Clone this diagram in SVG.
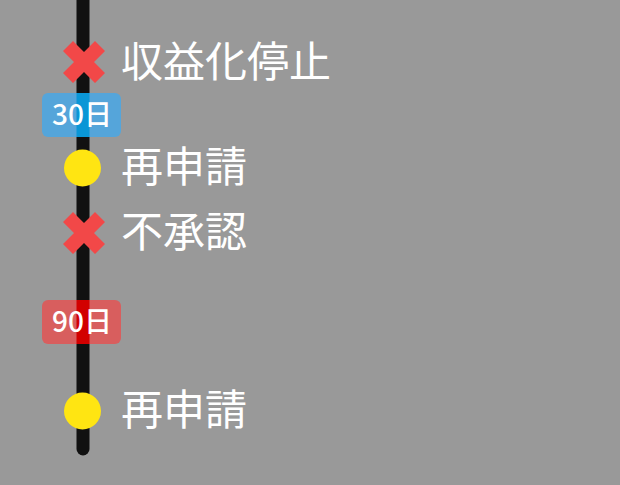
<svg xmlns="http://www.w3.org/2000/svg" width="620" height="485" viewBox="0 0 620 485">
<style>
.label{font-family:"Noto Sans CJK JP","Noto Sans",sans-serif;font-size:42px;font-weight:400;fill:#ffffff}
.badge-text{font-family:"Noto Sans CJK JP","Noto Sans",sans-serif;font-size:28px;font-weight:500;fill:#ffffff;text-anchor:middle}
.cross{fill:#f24848}
.dot{fill:#ffe512}
</style>
<defs>
<path id="x" d="M-21,-11 L-11,-21 L0,-10 L11,-21 L21,-11 L10,0 L21,11 L11,21 L0,10 L-11,21 L-21,11 L-10,0 Z"/>
</defs>
<rect width="620" height="485" fill="#999999"/>
<g id="connectors">
<line x1="83" y1="-20" x2="83" y2="449" stroke="#111111" stroke-width="13" stroke-linecap="round"/>
</g>
<g id="node-stop">
<use href="#x" x="84" y="62" class="cross"/>
<text class="label" x="121" y="77">収益化停止</text>
</g>
<g id="badge-30">
<rect x="42" y="93" width="79" height="44" rx="6" fill="#55a5da"/>
<rect x="76.5" y="93" width="13" height="44" fill="#0a96d6"/>
<text class="badge-text" x="82" y="125">30日</text>
</g>
<g id="node-reapply-1">
<circle cx="82.5" cy="168" r="18.5" class="dot"/>
<text class="label" x="121" y="182">再申請</text>
</g>
<g id="node-reject">
<use href="#x" x="84" y="233" class="cross"/>
<text class="label" x="121" y="247">不承認</text>
</g>
<g id="badge-90">
<rect x="42" y="300" width="79" height="44" rx="6" fill="#d85e5e"/>
<rect x="76.5" y="300" width="13" height="44" fill="#d20000"/>
<text class="badge-text" x="82" y="332">90日</text>
</g>
<g id="node-reapply-2">
<circle cx="82.5" cy="411" r="18.5" class="dot"/>
<text class="label" x="121" y="425">再申請</text>
</g>
</svg>
